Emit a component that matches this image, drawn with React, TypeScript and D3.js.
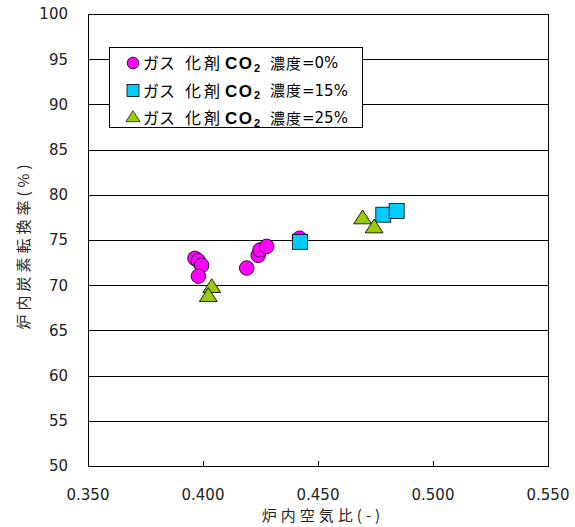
import React from "react";
import * as d3 from "d3";

const circleX = [0.3965, 0.398, 0.3994, 0.398, 0.419, 0.424, 0.4248, 0.4277, 0.442];
const circleY = [72.97, 72.7, 72.2, 71.0, 71.9, 73.3, 73.9, 74.3, 75.2];
const squareX = [0.4422, 0.4784, 0.4842];
const squareY = [74.8, 77.8, 78.2];
const triX = [0.4694, 0.4744, 0.4038, 0.4023];
const triY = [77.3, 76.3, 69.7, 68.7];

const xTicks = [0.35, 0.4, 0.45, 0.5, 0.55];
const yTicks = [50, 55, 60, 65, 70, 75, 80, 85, 90, 95, 100];
const legendLabels = ["=0%", "=15%", "=25%"];

const W = 575;
const H = 527;
const L = 88, R = 548, T = 14, B = 466;

export default function App() {
  const x = d3.scaleLinear().domain([0.35, 0.55]).range([L, R]);
  const y = d3.scaleLinear().domain([50, 100]).range([B, T]);
  const tri = d3.symbol().type(d3.symbolTriangle).size(110)();
  const num = "'DejaVu Sans', sans-serif";
  const lat = "'Liberation Sans', sans-serif";
  const jp = "'Noto Sans CJK JP', sans-serif";
  const textColor = "#222";

  const legendItems = [
    { kind: "circle", color: "#FF00FF" },
    { kind: "square", color: "#00CCFF" },
    { kind: "tri", color: "#99CC00" },
  ];

  const marker = (kind: string, color: string, cx: number, cy: number, key: string, s = 1) => {
    if (kind === "circle")
      return <circle key={key} cx={cx} cy={cy} r={7.3 * s} fill={color} stroke="#000" strokeWidth={0.8} />;
    if (kind === "square")
      return <rect key={key} x={cx - 7.5 * s} y={cy - 7.5 * s} width={15 * s} height={15 * s} fill={color} stroke="#000" strokeWidth={0.8} />;
    return <path key={key} d={tri} transform={`translate(${cx},${cy}) scale(${s * 1.12},${s})`} fill={color} stroke="#000" strokeWidth={0.8} />;
  };

  return (
    <svg width={W} height={H} style={{ position: "absolute", left: 0, top: 0, background: "#fff" }}>
      <rect x={0} y={0} width={W} height={H} fill="#fff" />
      {yTicks.filter((v) => v > 50 && v < 100).map((v) => (
        <line key={"g" + v} x1={L} x2={R} y1={Math.round(y(v)) + 0.5} y2={Math.round(y(v)) + 0.5} stroke="#000" strokeWidth={1} />
      ))}
      <rect x={L + 0.5} y={T + 0.5} width={R - L} height={B - T} fill="none" stroke="#000" strokeWidth={1} />
      {xTicks.filter((v) => v > 0.35 && v < 0.55).map((v) => (
        <line key={"xt" + v} x1={Math.round(x(v)) + 0.5} x2={Math.round(x(v)) + 0.5} y1={B} y2={B - 5} stroke="#000" />
      ))}
      {yTicks.map((v) => (
        <text key={"yl" + v} x={68} y={y(v)} dy="0.36em" textAnchor="end" fontSize={15} fontFamily={num} fill={textColor}>
          {v}
        </text>
      ))}
      {xTicks.map((v) => (
        <text key={"xl" + v} x={x(v)} y={500} textAnchor="middle" fontSize={15} fontFamily={num} fill={textColor}>
          {d3.format(".3f")(v)}
        </text>
      ))}
      <text x={323} y={521} textAnchor="middle" fontSize={15} letterSpacing={4} fontFamily={jp} fill={textColor}>
        炉内空気比(-)
      </text>
      <text transform={`translate(29,245) rotate(-90)`} textAnchor="middle" fontSize={15} letterSpacing={4} fontFamily={jp} fill={textColor}>
        炉内炭素転換率(%)
      </text>
      {circleX.map((v, i) => marker("circle", "#FF00FF", x(v), y(circleY[i]), "c" + i))}
      {squareX.map((v, i) => marker("square", "#00CCFF", x(v), y(squareY[i]), "s" + i))}
      {triX.map((v, i) => marker("tri", "#99CC00", x(v), y(triY[i]), "t" + i))}
      <rect x={109.5} y={47.5} width={253} height={80} fill="#fff" stroke="#000" strokeWidth={1} />
      {legendItems.map((it, i) => {
        const cy = 63 + i * 27.5;
        return (
          <g key={"lg" + i} fill="#000">
            {marker(it.kind, it.color, 133, cy, "lm" + i, 0.8)}
            <text x={143} y={cy} dy="0.38em" fontSize={16} fontFamily={jp} letterSpacing={0}>ガス</text>
            <text x={185} y={cy} dy="0.38em" fontSize={16} fontFamily={jp} letterSpacing={3}>化剤</text>
            <text x={225} y={cy} dy="0.36em" fontSize={17} fontFamily={lat} fontWeight="bold" letterSpacing={1.5}>CO</text>
            <text x={254} y={cy + 5} dy="0.36em" fontSize={11} fontFamily={lat} fontWeight="bold">2</text>
            <text x={270} y={cy} dy="0.38em" fontSize={15} fontFamily={jp} letterSpacing={1}>濃度</text>
            <text x={302} y={cy} dy="0.36em" fontSize={15} fontFamily={num}>{legendLabels[i]}</text>
          </g>
        );
      })}
    </svg>
  );
}
